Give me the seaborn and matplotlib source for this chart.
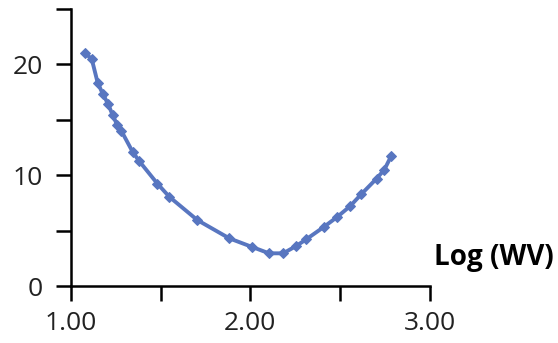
import matplotlib
matplotlib.use("Agg")
import matplotlib.pyplot as plt
import seaborn as sns
import pandas as pd

log_wv = [1.080, 1.117, 1.150, 1.178, 1.209, 1.234, 1.260, 1.282, 1.345, 1.382,
          1.482, 1.549, 1.705, 1.883, 2.007, 2.104, 2.183, 2.254, 2.310, 2.410,
          2.484, 2.555, 2.616, 2.703, 2.746, 2.783]
values = [21.0, 20.5, 18.35, 17.36, 16.4, 15.4, 14.5, 14.0, 12.1, 11.26,
          9.25, 8.05, 5.95, 4.30, 3.54, 2.95, 2.95, 3.60, 4.2, 5.34,
          6.24, 7.2, 8.26, 9.70, 10.5, 11.7]
x_ticks = [1.0, 1.5, 2.0, 2.5, 3.0]
x_labels = ["1.00", "", "2.00", "", "3.00"]
y_ticks = [0, 5, 10, 15, 20, 25]
y_labels = ["0", "", "10", "", "20", ""]

df = pd.DataFrame({"x": log_wv, "y": values})

sns.set_style("white")
plt.rcParams['font.family'] = ['Open Sans', 'DejaVu Sans']

fig = plt.figure(figsize=(5.58, 3.43), dpi=100)
ax = fig.add_axes([70.7/558, 57/343, (430-70.7)/558, (334-57)/343])

color = "#5876C0"
sns.lineplot(data=df, x="x", y="y", ax=ax, color=color, linewidth=2.8,
             marker="D", markersize=5.5, markeredgecolor=color,
             markerfacecolor=color, sort=False)

ax.set_xlim(1.0, 3.0)
ax.set_ylim(0, 25)
ax.set_xticks(x_ticks)
ax.set_xticklabels(x_labels)
ax.set_yticks(y_ticks)
ax.set_yticklabels(y_labels)
ax.set_xlabel("")
ax.set_ylabel("")

for side in ["top", "right"]:
    ax.spines[side].set_visible(False)
for side in ["left", "bottom"]:
    ax.spines[side].set_linewidth(1.8)
    ax.spines[side].set_color("black")

ax.tick_params(axis="both", direction="out", length=11, width=1.8,
               color="black", labelsize=19, labelcolor="#222222",
               bottom=True, left=True)
ax.tick_params(axis="x", pad=7)
ax.tick_params(axis="y", pad=9)

ax.text(554/558, (343-257)/343, "Log (WV)", transform=fig.transFigure,
        ha="right", va="center", fontsize=20, fontweight="bold", color="black")

fig.savefig("out.png", dpi=100)
